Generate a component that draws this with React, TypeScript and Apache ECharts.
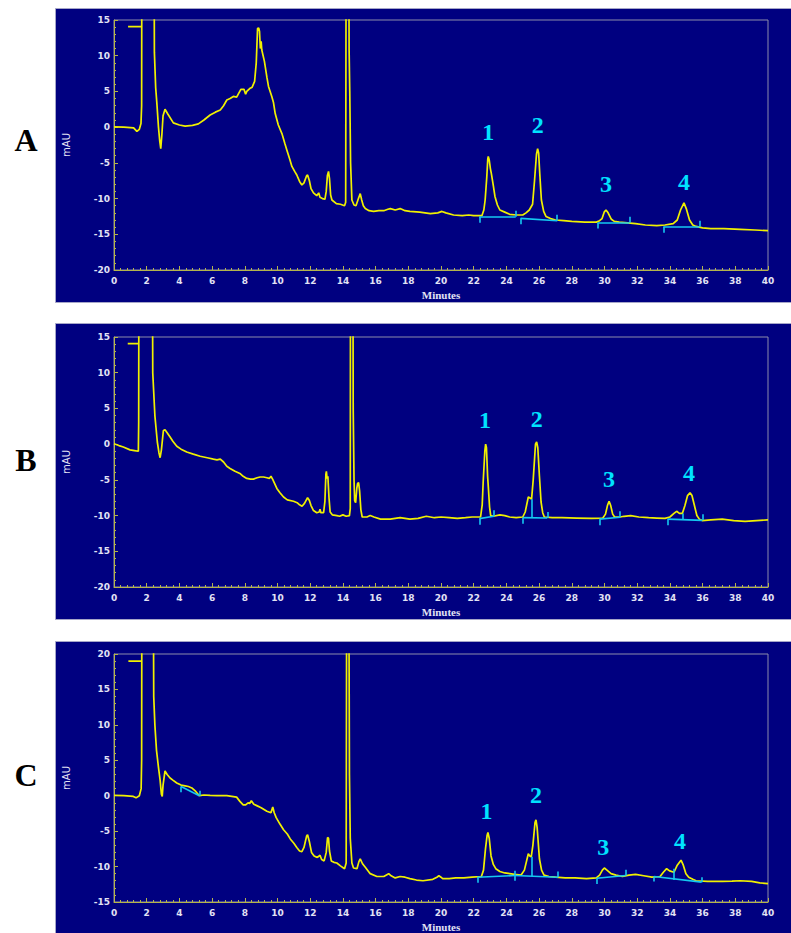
import React, { useEffect, useRef } from "react";
import * as echarts from "echarts";

// ---------- data ----------
const panelLetters = ["A", "B", "C"];
const yRanges = [
  [-20, 15],
  [-20, 15],
  [-15, 20],
];
const xRange = [0, 40];
const peakNames = ["1", "2", "3", "4"];

const traceA: number[][] = [
  [0, 0.05], [0.6, 0], [1.2, -0.1], [1.4, -0.6], [1.55, -0.3], [1.65, 0.5], [1.69, 3], [1.71, 40], [2.43, 40], [2.47, 10.5],
  [2.55, 5.5], [2.62, 3.4], [2.72, 0], [2.8, -2.0], [2.86, -3.0], [2.93, -1.0], [3.0, 1.6], [3.12, 2.5], [3.3, 1.8], [3.63, 0.6],
  [4.0, 0.3], [4.35, 0.15], [4.8, 0.25], [5.16, 0.45], [5.5, 1.0], [5.88, 1.7], [6.2, 2.1], [6.5, 2.4], [6.7, 3.0], [6.9, 3.8],
  [7.1, 4.0], [7.3, 4.3], [7.5, 4.2], [7.76, 5.3], [7.95, 5.3], [8.05, 4.6], [8.12, 5.0], [8.3, 5.4], [8.45, 5.6], [8.6, 6.4],
  [8.7, 9], [8.78, 13.8], [8.85, 13.9], [8.9, 13.4], [8.95, 11], [9.0, 12], [9.04, 10.8], [9.2, 9.2], [9.35, 7], [9.45, 5.7],
  [9.65, 4.3], [9.75, 3.5], [9.86, 1.9], [10.05, 0.3], [10.27, -0.9], [10.45, -2.3], [10.57, -3.2], [10.75, -4.5], [10.88, -5.5], [11.05, -6.2],
  [11.18, -6.7], [11.35, -7.6], [11.49, -8.1], [11.62, -7.8], [11.78, -6.8], [11.84, -6.7], [11.95, -7.5], [12.05, -8.6], [12.2, -9.2], [12.4, -9.6],
  [12.52, -9.2], [12.6, -9.8], [12.75, -10.0], [12.9, -10.1], [12.98, -9.0], [13.05, -6.8], [13.12, -6.2], [13.18, -7.2], [13.25, -9.5], [13.33, -10.2],
  [13.6, -10.7], [13.85, -10.8], [14.1, -11.0], [14.17, -10.5], [14.21, 40], [14.34, 40], [14.38, 10.8], [14.42, 5], [14.47, -5], [14.55, -10.2],
  [14.68, -10.9], [14.8, -11.0], [14.95, -10], [15.06, -9.3], [15.15, -10.2], [15.25, -11], [15.37, -11.4], [15.6, -11.7], [15.88, -11.8], [16.2, -11.7],
  [16.5, -11.7], [16.75, -11.5], [16.9, -11.4], [17.2, -11.6], [17.5, -11.4], [17.8, -11.7], [18.1, -11.8], [18.7, -11.9], [19.35, -12.1], [19.8, -12.0],
  [20.06, -11.8], [20.3, -12.0], [20.77, -12.3], [21.3, -12.4], [21.7, -12.3], [22.0, -12.4], [22.5, -12.4], [22.62, -11.6], [22.7, -10.2], [22.8, -7],
  [22.86, -4.5], [22.89, -4.1], [22.95, -4.6], [23.02, -5.8], [23.08, -6.5], [23.2, -8.2], [23.3, -9.7], [23.45, -10.9], [23.6, -11.6], [23.9, -11.9],
  [24.2, -12.2], [24.6, -12.3], [25.0, -12.3], [25.2, -12.0], [25.4, -11.6], [25.6, -10.8], [25.72, -7.5], [25.84, -3.8], [25.91, -3.0], [25.97, -3.6],
  [26.04, -6.5], [26.14, -10.2], [26.28, -11.8], [26.42, -12.5], [26.7, -12.8], [27.0, -13.0], [27.5, -13.1], [28.0, -13.2], [28.8, -13.3], [29.5, -13.3],
  [29.7, -13.1], [29.85, -12.8], [29.98, -11.9], [30.09, -11.6], [30.22, -12.0], [30.42, -12.9], [30.6, -13.2], [30.9, -13.3], [31.4, -13.4], [31.9, -13.5],
  [32.5, -13.7], [33.2, -13.8], [33.7, -13.7], [34.2, -13.5], [34.45, -13.0], [34.65, -11.6], [34.86, -10.6], [35.0, -11.4], [35.2, -13.0], [35.4, -13.7],
  [35.6, -13.9], [36.0, -14.1], [36.5, -14.2], [37.3, -14.2], [38.3, -14.3], [39.2, -14.4], [40, -14.5],
];

const traceB: number[][] = [
  [0, 0.05], [0.3, -0.2], [0.57, -0.4], [0.98, -0.8], [1.25, -0.9], [1.49, -1.0], [1.51, 3], [1.53, 40], [2.33, 40], [2.37, 10],
  [2.5, 4.0], [2.65, 0.3], [2.75, -1.2], [2.82, -1.9], [2.9, -0.8], [3.02, 1.9], [3.12, 2.0], [3.25, 1.6], [3.43, 1.0], [3.6, 0.4],
  [3.84, -0.3], [4.1, -0.7], [4.45, -1.1], [4.85, -1.4], [5.27, -1.7], [5.7, -1.9], [6.08, -2.1], [6.3, -2.2], [6.5, -2.1], [6.7, -2.5],
  [6.9, -3.1], [7.1, -3.4], [7.4, -3.8], [7.7, -4.1], [7.9, -4.5], [8.12, -4.8], [8.35, -4.9], [8.53, -4.9], [8.75, -4.7], [8.94, -4.6],
  [9.15, -4.6], [9.35, -4.7], [9.5, -4.8], [9.6, -4.5], [9.7, -4.9], [9.96, -6.2], [10.15, -6.8], [10.37, -7.4], [10.6, -7.8], [10.98, -8.0],
  [11.2, -8.2], [11.35, -8.5], [11.5, -8.7], [11.65, -8.3], [11.84, -7.5], [11.95, -7.9], [12.05, -8.6], [12.2, -9.3], [12.4, -9.6], [12.55, -9.5],
  [12.6, -9.1], [12.65, -9.6], [12.82, -9.6], [12.9, -8], [12.96, -4.2], [12.99, -3.8], [13.03, -4.8], [13.08, -4.5], [13.15, -7.5], [13.22, -9.5],
  [13.35, -9.9], [13.63, -10.0], [13.8, -10.1], [14.0, -9.9], [14.2, -10.1], [14.4, -10.0], [14.45, -9], [14.47, 40], [14.6, 40], [14.63, 5],
  [14.68, -5], [14.72, -7.9], [14.78, -8.2], [14.85, -6.2], [14.9, -5.5], [14.96, -5.4], [15.02, -6.5], [15.1, -9.2], [15.18, -10.2], [15.47, -10.2],
  [15.67, -10.0], [15.9, -10.2], [16.3, -10.5], [16.9, -10.5], [17.5, -10.3], [18.1, -10.5], [18.6, -10.4], [19.1, -10.1], [19.6, -10.3], [20.0, -10.2],
  [20.5, -10.3], [21.0, -10.4], [21.5, -10.3], [21.9, -10.2], [22.42, -10.2], [22.52, -8.5], [22.58, -5.3], [22.68, -1], [22.73, 0.0], [22.78, -0.5],
  [22.85, -4.5], [22.9, -6.2], [22.97, -8.8], [23.04, -10.0], [23.2, -10.1], [23.6, -9.9], [23.9, -10.0], [24.2, -10.2], [24.6, -10.3], [25.0, -10.2],
  [25.15, -9.5], [25.34, -7.4], [25.42, -7.5], [25.54, -7.7], [25.64, -5], [25.78, 0], [25.85, 0.3], [25.92, -0.5], [26.02, -4.5], [26.12, -8.1],
  [26.22, -9.6], [26.32, -10.2], [26.8, -10.3], [27.4, -10.3], [28.3, -10.35], [29.2, -10.4], [29.9, -10.35], [30.06, -9.8], [30.18, -8.6], [30.28, -8.0],
  [30.38, -8.6], [30.5, -9.8], [30.62, -10.2], [30.95, -10.2], [31.2, -10.1], [31.6, -10.0], [32.1, -10.2], [32.7, -10.3], [33.2, -10.35], [33.7, -10.4],
  [34.0, -10.2], [34.25, -9.7], [34.41, -9.4], [34.58, -9.7], [34.76, -9.7], [34.92, -8.6], [35.08, -7.2], [35.23, -6.8], [35.35, -7.2], [35.5, -8.6],
  [35.65, -10.0], [35.8, -10.5], [35.98, -10.7], [36.5, -10.6], [37.2, -10.5], [37.9, -10.7], [38.6, -10.8], [39.3, -10.7], [40, -10.6],
];

const traceC: number[][] = [
  [0, 0.05], [0.6, 0], [1.18, -0.1], [1.35, -0.3], [1.55, 0], [1.66, 1], [1.69, 5], [1.71, 40], [2.39, 40], [2.43, 14],
  [2.5, 10], [2.6, 6.4], [2.72, 4], [2.82, 2.2], [2.9, 0.2], [2.95, -0.1], [3.0, 1.5], [3.12, 3.5], [3.25, 3.0], [3.43, 2.5],
  [3.6, 2.2], [3.84, 1.8], [4.1, 1.5], [4.35, 1.4], [4.55, 1.3], [4.76, 1.1], [5.0, 0.6], [5.22, 0.0], [5.5, 0.1], [5.88, 0.05],
  [6.3, 0], [6.9, 0], [7.2, -0.1], [7.5, -0.2], [7.7, -0.8], [7.9, -1.3], [8.05, -1.3], [8.2, -1.0], [8.3, -1.1], [8.4, -0.7],
  [8.55, -1.2], [8.73, -1.4], [9.0, -1.7], [9.35, -2.2], [9.6, -2.4], [9.71, -1.6], [9.8, -2.4], [9.92, -3.1], [10.15, -4.0], [10.37, -4.8],
  [10.6, -5.4], [10.78, -6.1], [11.0, -6.7], [11.18, -7.3], [11.35, -7.8], [11.49, -7.9], [11.62, -7.3], [11.78, -5.7], [11.84, -5.5], [11.95, -6.5],
  [12.08, -8.0], [12.24, -8.5], [12.4, -8.7], [12.5, -8.6], [12.6, -8.4], [12.7, -9.0], [12.85, -9.2], [12.98, -8], [13.06, -5.9], [13.12, -6.0],
  [13.18, -7.8], [13.29, -9.2], [13.45, -9.4], [13.63, -9.5], [13.85, -9.9], [14.1, -10.3], [14.2, -9.5], [14.24, 40], [14.35, 40], [14.4, 3],
  [14.45, -6], [14.55, -9.5], [14.65, -10.2], [14.86, -10.3], [14.98, -9.3], [15.06, -8.9], [15.2, -9.6], [15.37, -10.1], [15.67, -11.0], [16.08, -11.4],
  [16.5, -11.4], [16.8, -11.0], [16.95, -11.3], [17.2, -11.6], [17.5, -11.4], [17.8, -11.5], [18.1, -11.7], [18.5, -11.9], [18.9, -12.0], [19.5, -11.8],
  [19.75, -11.5], [19.87, -11.3], [20.0, -11.5], [20.1, -11.7], [20.5, -11.7], [20.9, -11.6], [21.4, -11.6], [21.9, -11.5], [22.47, -11.4], [22.6, -10.5],
  [22.72, -7.5], [22.82, -5.6], [22.87, -5.2], [22.95, -6.0], [23.06, -8.5], [23.2, -9.7], [23.35, -10.3], [23.6, -10.7], [23.9, -10.9], [24.5, -11.1],
  [24.9, -11.2], [25.1, -10.5], [25.34, -8.2], [25.43, -8.5], [25.52, -8.6], [25.62, -7], [25.75, -3.8], [25.81, -3.4], [25.88, -4.5], [26.02, -8.9],
  [26.15, -10.5], [26.3, -11.2], [26.6, -11.4], [27.0, -11.5], [27.6, -11.6], [28.2, -11.6], [28.9, -11.7], [29.5, -11.6], [29.7, -11.2], [29.87, -10.5],
  [29.99, -10.2], [30.15, -10.5], [30.4, -11.0], [30.7, -11.2], [31.1, -11.4], [31.5, -11.2], [31.9, -11.1], [32.4, -11.3], [32.9, -11.5], [33.4, -11.4],
  [33.6, -10.8], [33.8, -10.3], [33.98, -10.6], [34.25, -10.8], [34.45, -9.8], [34.68, -9.1], [34.82, -9.8], [34.98, -11.0], [35.15, -11.5], [35.4, -11.8],
  [35.6, -12.0], [36.3, -12.1], [37.2, -12.1], [37.8, -12.05], [38.3, -12.0], [39.0, -12.1], [39.5, -12.3], [40, -12.4],
];

// short event marker near the top-left of each trace
const markerA = [[0.86, 14.06], [1.68, 14.06]];
const markerB = [[0.84, 14.07], [1.51, 14.07]];
const markerC = [[0.88, 19.0], [1.69, 19.0]];

// integration baselines: [t1, v1, t2, v2]
const baseA = [
  [22.34, -12.54, 24.57, -12.54],
  [24.87, -12.77, 27.11, -13.1],
  [29.58, -13.37, 31.52, -13.37],
  [33.6, -13.93, 35.8, -13.93],
];
const baseB = [
  [22.34, -10.43, 23.24, -10.1],
  [25.0, -10.29, 26.5, -10.34],
  [29.69, -10.5, 30.95, -10.24],
  [33.86, -10.5, 35.98, -10.67],
];
const baseC = [
  [4.1, 1.3, 5.22, 0.0],
  [22.22, -11.5, 24.49, -11.27],
  [24.49, -11.27, 27.14, -11.5],
  [29.52, -11.64, 31.3, -11.27],
  [33.03, -11.4, 35.94, -12.2],
];
// integration event ticks: [t, vFrom, vTo]
const ticksA = [
  [22.34, -12.54, -13.38], [24.57, -12.54, -11.7], [24.87, -12.77, -13.6], [27.11, -13.1, -12.26],
  [29.58, -13.37, -14.2], [31.52, -13.37, -12.53], [33.6, -13.93, -14.77], [35.8, -13.93, -13.1],
];
const ticksB = [
  [22.34, -10.43, -11.27], [23.24, -10.1, -9.26], [25.0, -10.29, -11.13], [25.54, -10.3, -7.7],
  [26.5, -10.34, -9.5], [29.69, -10.5, -11.34], [30.95, -10.24, -9.4], [33.86, -10.5, -11.34],
  [34.76, -10.55, -9.7], [35.98, -10.67, -9.83],
];
const ticksC = [
  [4.1, 1.3, 0.5], [5.22, 0.0, 0.7],
  [22.22, -11.5, -12.3], [24.49, -10.6, -12.0], [25.52, -11.35, -8.6], [27.14, -11.5, -10.7],
  [29.52, -11.64, -12.45], [31.3, -11.27, -10.45], [33.03, -11.4, -12.1], [34.25, -11.9, -10.3],
  [35.94, -12.2, -11.5],
];

// peak label anchor positions [t, v]
const labelsA = [[22.89, -0.63], [25.91, 0.3], [30.09, -7.96], [34.86, -7.7]];
const labelsB = [[22.69, 3.33], [25.85, 3.57], [30.28, -4.9], [35.17, -4.0]];
const labelsC = [[22.78, -2.2], [25.81, 0.13], [29.92, -7.3], [34.62, -6.34]];

const traces = [traceA, traceB, traceC];
const markers = [markerA, markerB, markerC];
const bases = [baseA, baseB, baseC];
const tickSets = [ticksA, ticksB, ticksC];
const labelSets = [labelsA, labelsB, labelsC];

// ---------- layout ----------
const NAVY = "#000080";
const YELLOW = "#f0f000";
const CYAN = "#14c8f0";
const LABEL_CYAN = "#00e2ff";
const AXIS = "#b4b44c";
const TEXT = "#e2e2f4";
const gridTops = [20, 337, 654];
const gridHeights = [250, 250, 251];
const panelRects = [
  [55, 8, 740, 294],
  [55, 323, 740, 296],
  [55, 641, 740, 300],
];
const letterY = [140, 460, 775];

export default function App() {
  const ref = useRef<HTMLDivElement>(null);
  useEffect(() => {
    if (!ref.current) return;
    const chart = echarts.init(ref.current, undefined, { renderer: "svg" });

    const grids: any[] = [];
    const xAxes: any[] = [];
    const yAxes: any[] = [];
    const series: any[] = [];

    for (let i = 0; i < 3; i++) {
      grids.push({
        left: 114,
        top: gridTops[i],
        width: 654,
        height: gridHeights[i],
        show: true,
        backgroundColor: "transparent",
        borderColor: "#8c8caa",
        borderWidth: 1,
      });
      xAxes.push({
        type: "value",
        gridIndex: i,
        min: xRange[0],
        max: xRange[1],
        interval: 2,
        name: "Minutes",
        nameLocation: "middle",
        nameGap: 19,
        nameTextStyle: { color: TEXT, fontFamily: "Liberation Serif", fontWeight: "bold", fontSize: 11 },
        axisLine: { show: true, onZero: false, lineStyle: { color: AXIS, width: 1 } },
        axisTick: { show: true, inside: true, length: 4, lineStyle: { color: AXIS } },
        minorTick: { show: true, splitNumber: 5, length: 2, lineStyle: { color: AXIS } },
        splitLine: { show: false },
        axisLabel: { color: TEXT, fontFamily: "DejaVu Sans", fontWeight: "bold", fontSize: 9, margin: 6 },
      });
      yAxes.push({
        type: "value",
        gridIndex: i,
        min: yRanges[i][0],
        max: yRanges[i][1],
        interval: 5,
        name: "mAU",
        nameLocation: "middle",
        nameGap: 43,
        nameTextStyle: { color: TEXT, fontFamily: "DejaVu Sans", fontSize: 10 },
        axisLine: { show: true, onZero: false, lineStyle: { color: AXIS, width: 1 } },
        axisTick: { show: true, inside: true, length: 4, lineStyle: { color: AXIS } },
        minorTick: { show: true, splitNumber: 5, length: 2, lineStyle: { color: AXIS } },
        splitLine: { show: false },
        axisLabel: { color: TEXT, fontFamily: "DejaVu Sans", fontWeight: "bold", fontSize: 9, margin: 4 },
      });

      series.push({
        type: "line",
        xAxisIndex: i,
        yAxisIndex: i,
        data: traces[i],
        showSymbol: false,
        symbol: "none",
        clip: true,
        lineStyle: { color: YELLOW, width: 1.7 },
        z: 3,
      });
      series.push({
        type: "line",
        xAxisIndex: i,
        yAxisIndex: i,
        data: markers[i],
        showSymbol: false,
        symbol: "none",
        lineStyle: { color: YELLOW, width: 1.7 },
        z: 3,
      });
      const segs: any[] = bases[i].map((b) => ({ coords: [[b[0], b[1]], [b[2], b[3]]] }));
      tickSets[i].forEach((t) => segs.push({ coords: [[t[0], t[1]], [t[0], t[2]]] }));
      series.push({
        type: "lines",
        coordinateSystem: "cartesian2d",
        xAxisIndex: i,
        yAxisIndex: i,
        data: segs,
        lineStyle: { color: CYAN, width: 1.6, opacity: 1 },
        z: 4,
      });
      series.push({
        type: "scatter",
        xAxisIndex: i,
        yAxisIndex: i,
        symbolSize: 1,
        itemStyle: { color: "rgba(0,0,0,0)", opacity: 1 },
        data: labelSets[i].map((p, k) => ({ name: peakNames[k], value: p })),
        label: {
          show: true,
          position: "inside",
          formatter: "{b}",
          color: LABEL_CYAN,
          opacity: 1,
          fontFamily: "Liberation Serif",
          fontWeight: "bold",
          fontSize: 24,
        },
        z: 5,
      });
    }

    const graphics: any[] = [];
    panelRects.forEach((r, i) => {
      graphics.push({
        type: "rect",
        z: -10,
        shape: { x: r[0] + 0.5, y: r[1] + 0.5, width: r[2], height: r[3] },
        style: { fill: NAVY, stroke: "#a6a6c8", lineWidth: 1 },
        silent: true,
      });
      graphics.push({
        type: "text",
        z: 10,
        x: 26,
        y: letterY[i],
        style: {
          text: panelLetters[i],
          fill: "#000000",
          font: 'bold 32px "Liberation Serif"',
          align: "center",
          verticalAlign: "middle",
        },
      });
    });

    chart.setOption({
      animation: false,
      backgroundColor: "#ffffff",
      grid: grids,
      xAxis: xAxes,
      yAxis: yAxes,
      series,
      graphic: graphics,
    });
    return () => chart.dispose();
  }, []);
  return <div ref={ref} style={{ position: "absolute", left: 0, top: 0, width: 791, height: 933 }} />;
}
